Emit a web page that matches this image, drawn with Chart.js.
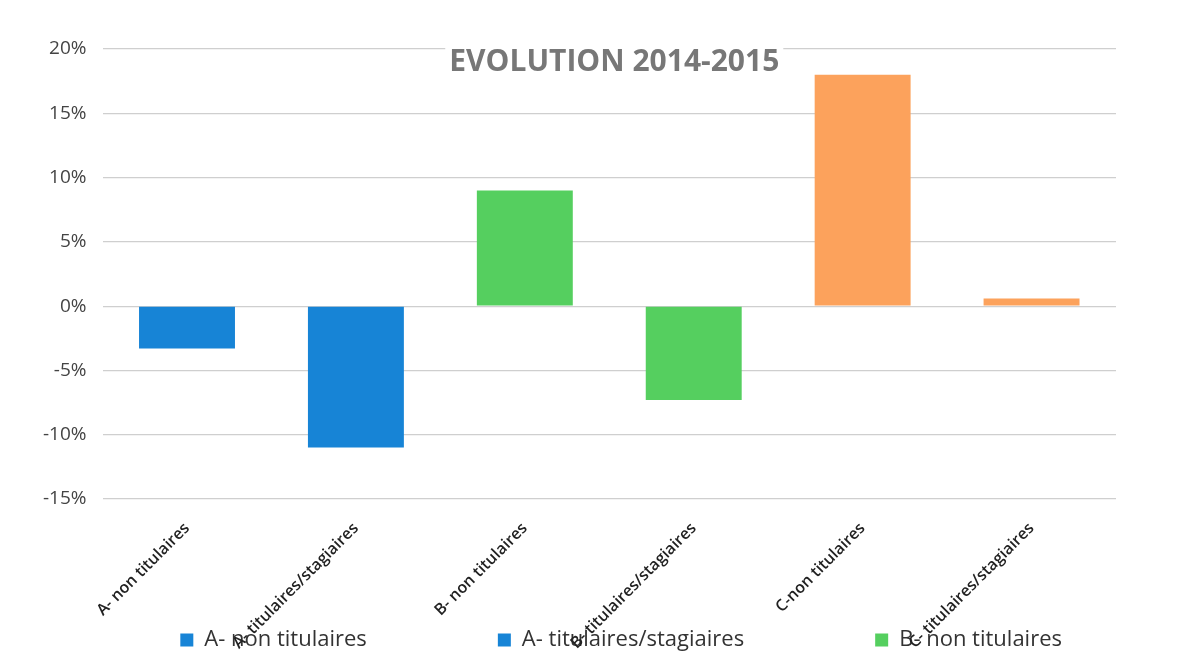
<!DOCTYPE html>
<html>
<head>
<meta charset="utf-8">
<script src="https://cdn.jsdelivr.net/npm/chart.js@4.4.1/dist/chart.umd.min.js"></script>
<style>
  html, body { margin: 0; padding: 0; background: #fff; }
  #wrap { width: 1202px; height: 667px; position: relative; }
</style>
</head>
<body>
<div id="wrap"><canvas id="evoChart"></canvas></div>
<script>
// categories and values (percent change 2014 -> 2015)
const categories = [
    'A- non titulaires',
    'A- titulaires/stagiaires',
    'B- non titulaires',
    'B- titulaires/stagiaires',
    'C-non titulaires',
    'C- titulaires/stagiaires'
];
const evolution = [-3.3, -11.0, 9.0, -7.3, 18.0, 0.6];
const barColors = ['#1784d6', '#1784d6', '#55cf5f', '#55cf5f', '#fca25c', '#fca25c'];
const chartTitle = 'EVOLUTION 2014-2015';

// one dataset per category so each one gets its own legend entry
const datasets = categories.map((name, i) => ({
    label: name,
    data: categories.map((_, j) => j === i ? evolution[i] : null),
    backgroundColor: barColors[i],
    borderWidth: 0,
    grouped: false,
    categoryPercentage: 0.8,
    barPercentage: 0.71
}));

// title sits on top of the 20% gridline, like in the original
const titleOverlay = {
    id: 'titleOverlay',
    afterDraw(chart) {
        const { ctx, chartArea } = chart;
        ctx.save();
        ctx.font = 'bold 30px "Open Sans", sans-serif';
        const w = ctx.measureText(chartTitle).width;
        const cx = (chartArea.left + chartArea.right) / 2 + 5;
        const cy = chartArea.top + 13;
        ctx.fillStyle = '#fff';
        ctx.fillRect(cx - w / 2 - 4, cy - 18, w + 8, 36);
        ctx.fillStyle = '#777';
        ctx.textAlign = 'center';
        ctx.textBaseline = 'middle';
        ctx.fillText(chartTitle, cx, cy);
        ctx.restore();
    }
};

// only the first row of the legend is visible in the original (wide gaps)
const defaultLabels = Chart.defaults.plugins.legend.labels.generateLabels;
const legendGaps = ['\u2003'.repeat(5) + '\u2002', '\u2003'.repeat(5) + '\u2002', '\u2003'.repeat(2)];

const ctx = document.getElementById('evoChart').getContext('2d');
new Chart(ctx, {
    type: 'bar',
    data: { labels: categories, datasets: datasets },
    options: {
        responsive: true,
        maintainAspectRatio: false,
        animation: false,
        layout: { padding: { left: 27, right: 86, top: 49, bottom: 6 } },
        scales: {
            x: {
                grid: { display: false },
                border: { display: false },
                // labels run down behind the legend, as in the original
                afterFit: scale => {
                    scale.height = 120;
                    scale._computeLabelArea = () => null;
                },
                ticks: {
                    maxRotation: 45,
                    minRotation: 45,
                    padding: 12,
                    color: '#222',
                    font: { family: '"Open Sans", sans-serif', size: 16, weight: '600' }
                }
            },
            y: {
                min: -15,
                max: 20,
                grid: { color: '#cfcfcf', lineWidth: 1.2, drawTicks: false },
                border: { display: false },
                ticks: {
                    stepSize: 5,
                    padding: 16,
                    color: '#444',
                    font: { family: '"Open Sans", sans-serif', size: 19 },
                    callback: v => v + '%'
                }
            }
        },
        plugins: {
            title: { display: false },
            tooltip: { enabled: false },
            legend: {
                position: 'bottom',
                align: 'end',
                labels: {
                    generateLabels: chart => defaultLabels(chart).map((item, i) => {
                        if (i < 3) item.text = item.text + legendGaps[i];
                        return item;
                    }),
                    filter: item => item.datasetIndex < 3,
                    boxWidth: 13,
                    boxHeight: 13,
                    padding: 10,
                    color: '#333',
                    font: { family: '"Open Sans", sans-serif', size: 22 }
                }
            }
        }
    },
    plugins: [titleOverlay]
});
</script>
</body>
</html>
